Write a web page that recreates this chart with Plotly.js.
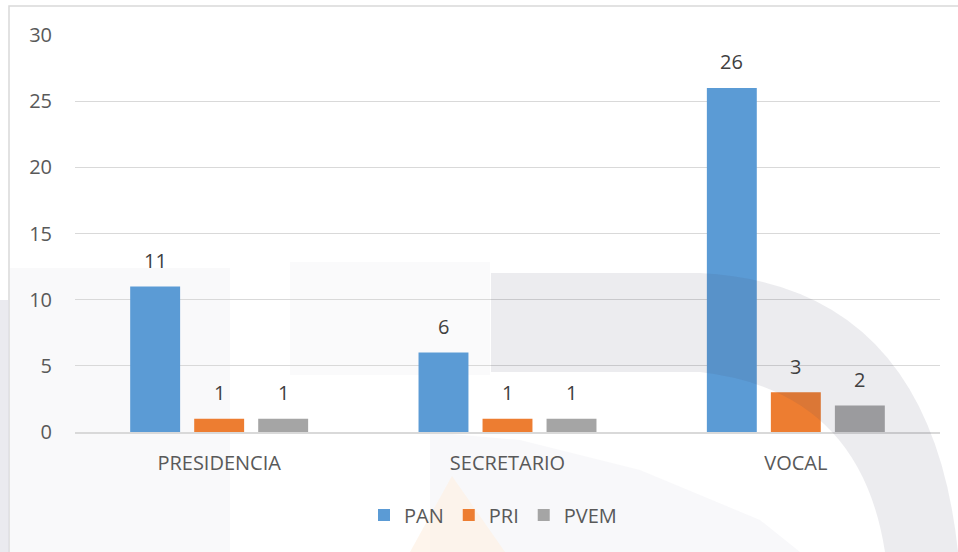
<!DOCTYPE html>
<html><head><meta charset="utf-8">
<script src="https://cdn.plot.ly/plotly-3.0.1.min.js"></script>
<style>html,body{margin:0;padding:0;background:#fff}#c{width:958px;height:552px}</style>
</head><body><div id="c"></div>
<script>
const categories = ["PRESIDENCIA", "SECRETARIO", "VOCAL"];
const seriesNames = ["PAN", "PRI", "PVEM"];
const pan = [11, 6, 26];
const pri = [1, 1, 3];
const pvem = [1, 1, 2];
const colors = ["#5B9BD5", "#ED7D31", "#A5A5A5"];
const values = [pan, pri, pvem];

const FAM = "Open Sans, Liberation Sans, sans-serif";
const font = {family: FAM, size: 20, color: "#595959"};

const traces = values.map((v, i) => ({
  type: "bar", name: seriesNames[i], x: categories, y: v,
  marker: {color: colors[i]}, hoverinfo: "none"
}));

// data labels built from the data arrays
const annotations = [];
values.forEach((v, i) => {
  v.forEach((val, j) => {
    annotations.push({x: categories[j], y: val, text: String(val), showarrow: false,
      xanchor: "center", yanchor: "middle", xshift: (i - 1) * 64, yshift: 26,
      font: {family: FAM, size: 20, color: "#404040"}});
  });
});

// pixel -> paper helpers for decorative watermark shapes
const L = 75, R = 940, T = 35, B = 432;
const px = x => (x - L) / (R - L);
const py = y => (B - y) / (B - T);
const P = pts => "M" + pts.map(p => px(p[0]).toFixed(4) + "," + py(p[1]).toFixed(4)).join(" L") + " Z";

const shapes = [
  // chart border
  {type: "rect", xref: "paper", yref: "paper", x0: px(9), x1: px(1000), y0: py(700), y1: py(6),
   line: {color: "#d9d9d9", width: 1.5}, fillcolor: "rgba(0,0,0,0)", layer: "below"},
  // faint left watermark band
  {type: "rect", xref: "paper", yref: "paper", x0: px(0), x1: px(9), y0: py(552), y1: py(300),
   line: {width: 0}, fillcolor: "rgba(225,225,232,0.7)", layer: "below"},
  {type: "rect", xref: "paper", yref: "paper", x0: px(10), x1: px(230), y0: py(552), y1: py(268),
   line: {width: 0}, fillcolor: "rgba(238,238,242,0.35)", layer: "below"},
  {type: "rect", xref: "paper", yref: "paper", x0: px(290), x1: px(490), y0: py(375), y1: py(262),
   line: {width: 0}, fillcolor: "rgba(238,238,242,0.3)", layer: "below"},
  // light inner area under the ring
  {type: "path", xref: "paper", yref: "paper", layer: "below", line: {width: 0},
   fillcolor: "rgba(238,238,242,0.4)",
   path: P([[430, 432], [520, 440], [640, 470], [760, 520], [800, 552], [430, 552]])},
  // faint orange triangle
  {type: "path", xref: "paper", yref: "paper", layer: "below", line: {width: 0},
   fillcolor: "rgba(254,242,230,0.75)",
   path: P([[452, 476], [505, 552], [410, 552]])},
  // gray ring (drawn over marks, semi transparent)
  {type: "path", xref: "paper", yref: "paper", layer: "above", line: {width: 0},
   fillcolor: "rgba(70,70,100,0.10)",
   path: "M" + px(491) + "," + py(273) + " L" + px(700) + "," + py(273) +
         " Q" + px(930) + "," + py(285) + " " + px(958) + "," + py(552) +
         " L" + px(885) + "," + py(552) +
         " Q" + px(860) + "," + py(390) + " " + px(700) + "," + py(372) +
         " L" + px(491) + "," + py(372) + " Z"}
];

const layout = {
  width: 958, height: 552,
  margin: {l: L, r: 958 - R, t: T, b: 552 - B},
  paper_bgcolor: "#ffffff", plot_bgcolor: "rgba(0,0,0,0)",
  font: font,
  barmode: "group", bargap: 0.334, bargroupgap: 0.22,
  xaxis: {type: "category", showgrid: false, showline: true, linecolor: "#d9d9d9", linewidth: 1.5,
          ticks: "", tickfont: font, automargin: false, ticklabelstandoff: 12},
  yaxis: {range: [0, 30], dtick: 5, showgrid: true, gridcolor: "#d9d9d9", gridwidth: 1.3,
          zeroline: false, showline: false, ticks: "", tickfont: font, automargin: false,
          ticklabelstandoff: 22},
  showlegend: true,
  legend: {orientation: "h", x: px(493), xanchor: "center", y: py(515), yanchor: "middle",
           font: font, traceorder: "normal", bgcolor: "rgba(0,0,0,0)"},
  annotations: annotations,
  shapes: shapes
};
Plotly.newPlot("c", traces, layout, {staticPlot: true});
</script></body></html>
